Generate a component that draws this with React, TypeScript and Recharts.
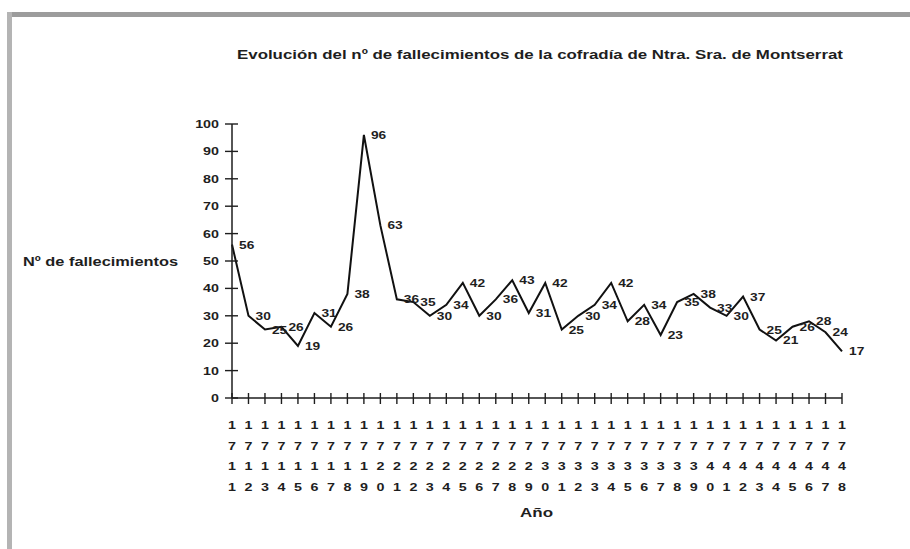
import React from 'react';
import { LineChart, Line, XAxis, YAxis, LabelList } from 'recharts';

const years = [
  '1711', '1712', '1713', '1714', '1715', '1716', '1717', '1718', '1719', '1720',
  '1721', '1722', '1723', '1724', '1725', '1726', '1727', '1728', '1729', '1730',
  '1731', '1732', '1733', '1734', '1735', '1736', '1737', '1738', '1739', '1740',
  '1741', '1742', '1743', '1744', '1745', '1746', '1747', '1748',
];
const deaths = [
  56, 30, 25, 26, 19, 31, 26, 38, 96, 63,
  36, 35, 30, 34, 42, 30, 36, 43, 31, 42,
  25, 30, 34, 42, 28, 34, 23, 35, 38, 33,
  30, 37, 25, 21, 26, 28, 24, 17,
];
const yTicks = [0, 10, 20, 30, 40, 50, 60, 70, 80, 90, 100];
const title = 'Evolución del nº de fallecimientos de la cofradía de Ntra. Sra. de Montserrat';
const yTitle = 'Nº de fallecimientos';
const xTitle = 'Año';

const data = years.map((y, i) => ({ year: y, value: deaths[i] }));

const FONT = '"Liberation Sans", Arial, sans-serif';
const INK = '#1e1e1e';

const XTick = (props: any) => {
  const { x, y, payload } = props;
  const chars = String(payload.value).split('');
  return (
    <g>
      <line x1={x} x2={x} y1={y - 5} y2={y + 6} stroke={INK} strokeWidth={1.4} />
      {chars.map((ch, k) => (
        <text
          key={k}
          transform={`translate(${x},${y + 31 + k * 20.7}) scale(1.3,1)`}
          textAnchor="middle"
          fontFamily={FONT}
          fontWeight="bold"
          fontSize={11}
          fill={INK}
        >
          {ch}
        </text>
      ))}
    </g>
  );
};

const YTick = (props: any) => {
  const { x, y, payload } = props;
  return (
    <g>
      <line x1={x - 7} x2={x + 6} y1={y} y2={y} stroke={INK} strokeWidth={1.4} />
      <text
        transform={`translate(${x - 13},${y + 4}) scale(1.3,1)`}
        textAnchor="end"
        fontFamily={FONT}
        fontWeight="bold"
        fontSize={11}
        fill={INK}
      >
        {payload.value}
      </text>
    </g>
  );
};

const DataLabel = (props: any) => {
  const { x, y, value } = props;
  return (
    <text
      transform={`translate(${x + 7},${y + 4}) scale(1.25,1)`}
      textAnchor="start"
      fontFamily={FONT}
      fontWeight="bold"
      fontSize={11}
      fill={INK}
    >
      {value}
    </text>
  );
};

export default function App() {
  return (
    <div style={{ position: 'absolute', left: 0, top: 0, width: 910, height: 549, background: '#fff' }}>
      <svg width={910} height={549} style={{ position: 'absolute', left: 0, top: 0 }}>
        <rect x={7} y={12} width={903} height={5} fill="#9c9c9c" />
        <rect x={7} y={12} width={5} height={537} fill="#b4b4b4" />
        <text x={237} y={59} textLength={606} lengthAdjust="spacingAndGlyphs" fontFamily={FONT} fontWeight="bold" fontSize={12} fill={INK}>
          {title}
        </text>
        <text x={23} y={266} textLength={155} lengthAdjust="spacingAndGlyphs" fontFamily={FONT} fontWeight="bold" fontSize={12} fill={INK}>
          {yTitle}
        </text>
        <text x={520} y={517} textLength={33} lengthAdjust="spacingAndGlyphs" fontFamily={FONT} fontWeight="bold" fontSize={12} fill={INK}>
          {xTitle}
        </text>
      </svg>
      <div style={{ position: 'absolute', left: 0, top: 0 }}>
        <LineChart width={910} height={549} data={data} margin={{ top: 124, right: 68, left: 0, bottom: 0 }}>
          <XAxis
            dataKey="year"
            interval={0}
            height={151}
            tickSize={0}
            tickMargin={0}
            tick={<XTick />}
            axisLine={{ stroke: INK, strokeWidth: 1.5 }}
            tickLine={false}
          />
          <YAxis
            width={232}
            domain={[0, 100]}
            ticks={yTicks}
            interval={0}
            tickSize={0}
            tickMargin={0}
            tick={<YTick />}
            axisLine={{ stroke: INK, strokeWidth: 1.5 }}
            tickLine={false}
          />
          <Line
            type="linear"
            dataKey="value"
            stroke="#111"
            strokeWidth={2}
            dot={false}
            isAnimationActive={false}
          >
            <LabelList dataKey="value" content={<DataLabel />} />
          </Line>
        </LineChart>
      </div>
    </div>
  );
}
